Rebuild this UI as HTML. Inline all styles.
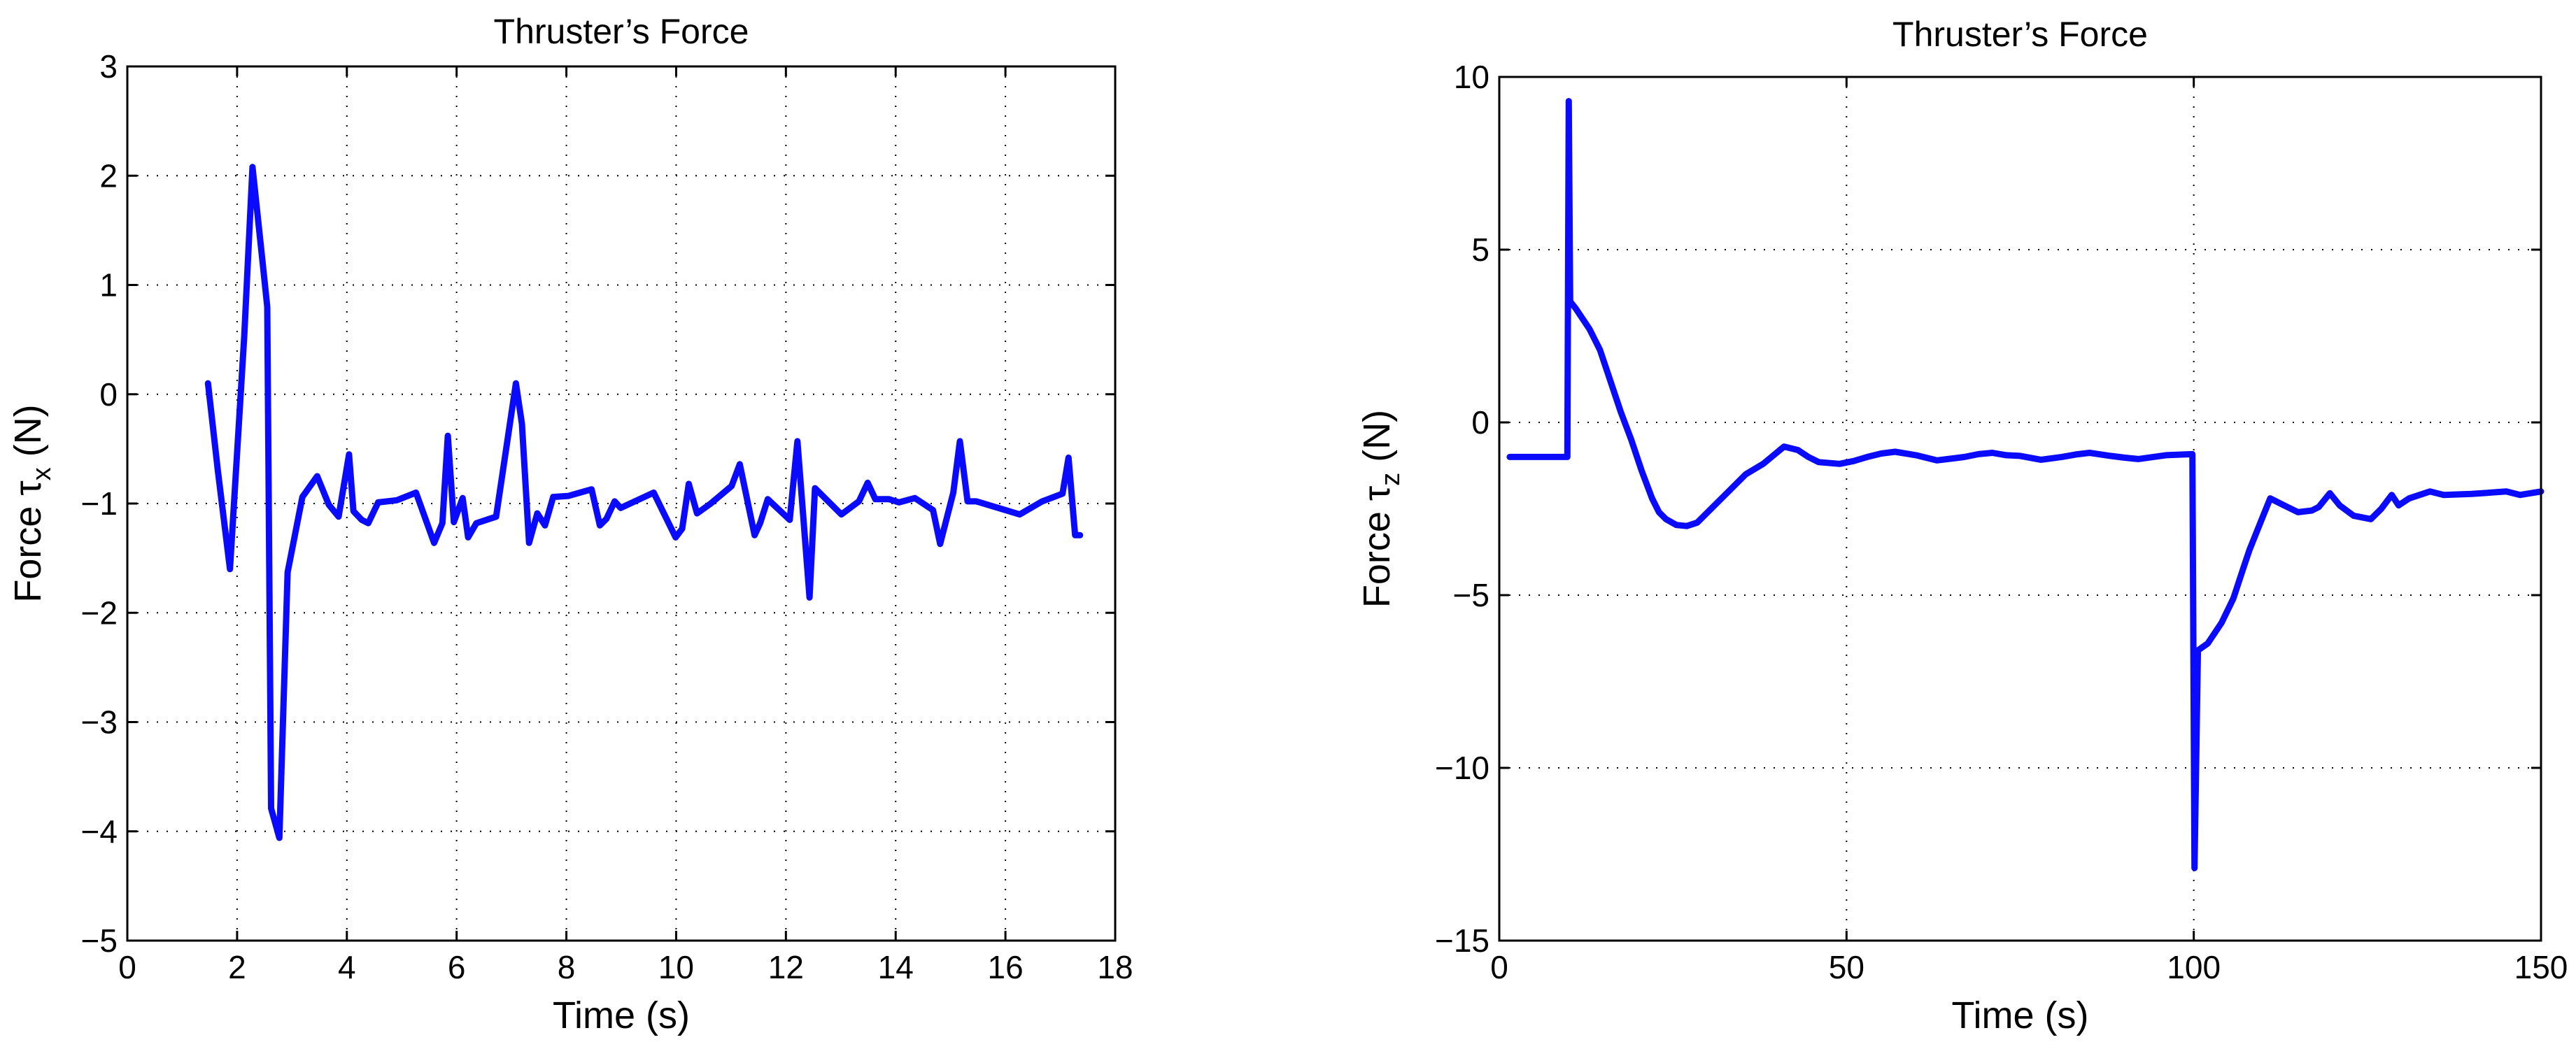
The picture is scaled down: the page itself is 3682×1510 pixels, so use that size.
<!DOCTYPE html>
<html><head><meta charset="utf-8"><style>
html,body{margin:0;padding:0;background:#fff;}
svg{display:block;font-family:"Liberation Sans",sans-serif;}
</style></head><body>
<svg id="fig" width="3682" height="1510" viewBox="0 0 3682 1510" xmlns="http://www.w3.org/2000/svg">
<rect width="3682" height="1510" fill="#fff"/>
</svg>
<script>
// Left chart data
const leftX = [1.47,1.65,1.87,2.13,2.28,2.47,2.55,2.62,2.77,2.92,3.19,3.46,3.67,3.85,4.04,4.12,4.27,4.39,4.57,4.91,5.26,5.59,5.74,5.84,5.95,6.11,6.21,6.36,6.72,7.08,7.19,7.32,7.47,7.61,7.76,8.04,8.46,8.61,8.73,8.88,8.99,9.59,9.99,10.11,10.23,10.38,10.63,11.01,11.16,11.43,11.53,11.67,12.07,12.21,12.43,12.53,13.01,13.33,13.49,13.63,13.88,14.06,14.35,14.68,14.81,15.05,15.17,15.31,15.47,16.26,16.67,17.04,17.15,17.27,17.36];
const leftY = [0.10,-0.70,-1.60,0.53,2.08,1.18,0.80,-3.79,-4.06,-1.63,-0.94,-0.75,-1.01,-1.12,-0.55,-1.07,-1.15,-1.18,-0.99,-0.97,-0.90,-1.36,-1.18,-0.38,-1.17,-0.95,-1.31,-1.18,-1.12,0.10,-0.27,-1.36,-1.09,-1.20,-0.94,-0.93,-0.87,-1.20,-1.14,-0.98,-1.04,-0.90,-1.31,-1.23,-0.82,-1.09,-1.00,-0.84,-0.64,-1.29,-1.18,-0.96,-1.15,-0.43,-1.86,-0.86,-1.10,-0.98,-0.81,-0.96,-0.96,-0.99,-0.95,-1.06,-1.37,-0.90,-0.43,-0.98,-0.98,-1.10,-0.98,-0.91,-0.58,-1.29,-1.29];
const leftXTicks = [0,2,4,6,8,10,12,14,16,18];
const leftYTicks = [3,2,1,0,-1,-2,-3,-4,-5];
// Right chart data
const rightX = [1.5,9.8,10.0,10.2,11,13,14.5,16,17.5,19,20.5,22,23,24,25.5,27,28.5,30,33,35.5,38,41,43,44.5,46,49,51,53,55,57,60,63,65,67,69,71,73,75,78,81,83,85,88,90,92,96,99.8,100.1,100.6,102,104,105.7,107,108,110,111,113,115,117,118,119.6,121,123,125.5,127,128.5,129.5,131,134,136,140,145,147,150];
const rightY = [-1.0,-1.0,9.3,3.5,3.3,2.7,2.1,1.2,0.3,-0.5,-1.4,-2.2,-2.6,-2.8,-2.97,-3.0,-2.9,-2.6,-2.0,-1.5,-1.2,-0.7,-0.8,-1.0,-1.15,-1.2,-1.12,-1.0,-0.9,-0.85,-0.95,-1.1,-1.05,-1.0,-0.92,-0.88,-0.95,-0.97,-1.08,-1.0,-0.93,-0.88,-0.97,-1.02,-1.06,-0.95,-0.92,-12.9,-6.6,-6.4,-5.8,-5.1,-4.3,-3.7,-2.7,-2.2,-2.4,-2.6,-2.55,-2.45,-2.05,-2.4,-2.7,-2.8,-2.5,-2.1,-2.4,-2.2,-2.0,-2.1,-2.07,-2.0,-2.1,-2.0];
const rightXTicks = [0,50,100,150];
const rightYTicks = [10,5,0,-5,-10,-15];

const NS="http://www.w3.org/2000/svg";
const svg=document.getElementById('fig');
function mk(tag,attrs,parent){const e=document.createElementNS(NS,tag);for(const k in attrs)e.setAttribute(k,attrs[k]);(parent||svg).appendChild(e);return e;}

function chart(o){
  const g=mk('g',{});
  
  
  const sx=v=>o.x0+(v-o.xmin)/(o.xmax-o.xmin)*(o.x1-o.x0);
  const sy=v=>o.y1-(v-o.ymin)/(o.ymax-o.ymin)*(o.y1-o.y0);
  o.xt.forEach(v=>{const X=sx(v);
    if(v!==o.xmin&&v!==o.xmax){const l=mk('line',{x1:X,x2:X,y1:o.y0,y2:o.y1,stroke:'#000','stroke-width':2,'stroke-dasharray':'2 12'},g);
      
      }
    const t1=mk('line',{x1:X,x2:X,y1:o.y1,y2:o.y1-14,stroke:'#000','stroke-width':3},g);
    
    
    mk('line',{x1:X,x2:X,y1:o.y0,y2:o.y0+14,stroke:'#000','stroke-width':3},g);
    const tx=mk('text',{x:X,y:o.y1+54,'font-size':46,'text-anchor':'middle'},g);tx.textContent=v;
    
    
  });
  o.yt.forEach(v=>{const Y=sy(v);
    if(v!==o.ymin&&v!==o.ymax){const l=mk('line',{x1:o.x0,x2:o.x1,y1:Y,y2:Y,stroke:'#000','stroke-width':2,'stroke-dasharray':'2 12'},g);
      
      }
    mk('line',{x1:o.x0,x2:o.x0+14,y1:Y,y2:Y,stroke:'#000','stroke-width':3},g);
    mk('line',{x1:o.x1,x2:o.x1-14,y1:Y,y2:Y,stroke:'#000','stroke-width':3},g);
    const tx=mk('text',{x:o.x0-14,y:Y+16,'font-size':46,'text-anchor':'end'},g);tx.textContent=String(v).replace('-','\u2212');
    
    
  });
  const pts=o.xs.map((x,i)=>sx(x).toFixed(1)+','+sy(o.ys[i]).toFixed(1)).join(' ');
  const pl=mk('polyline',{points:pts,fill:'none',stroke:'#0a0aff','stroke-width':9,'stroke-linejoin':'round','stroke-linecap':'round'},g);
  
  
  const fr=mk('rect',{x:o.x0,y:o.y0,width:o.x1-o.x0,height:o.y1-o.y0,fill:'none',stroke:'#000','stroke-width':3},g);
  
  
  const ti=mk('text',{x:(o.x0+o.x1)/2,y:o.titleY,'font-size':50,'text-anchor':'middle'},g);ti.textContent="Thruster\u2019s Force";
  
  
  const xl=mk('text',{x:(o.x0+o.x1)/2,y:o.xlabY,'font-size':54,'text-anchor':'middle'},g);xl.textContent="Time (s)";
  
  
  const yl=mk('text',{x:0,y:0,'font-size':54,'text-anchor':'middle',transform:`translate(${o.ylabX},${(o.y0+o.y1)/2}) rotate(-90)`},g);
  
  
  yl.innerHTML='Force \u03c4<tspan font-size="38" dy="14">'+o.sub+'</tspan><tspan dy="-14"> (N)</tspan>';
}
chart({name:'left-chart',x0:182,x1:1594,y0:95,y1:1345,xmin:0,xmax:18,ymin:-5,ymax:3,xt:leftXTicks,yt:leftYTicks,xs:leftX,ys:leftY,titleY:62,xlabY:1470,ylabX:58,sub:'x'});
chart({name:'right-chart',x0:2143,x1:3632,y0:110,y1:1345,xmin:0,xmax:150,ymin:-15,ymax:10,xt:rightXTicks,yt:rightYTicks,xs:rightX,ys:rightY,titleY:66,xlabY:1470,ylabX:1986,sub:'z'});
</script>
</body></html>
